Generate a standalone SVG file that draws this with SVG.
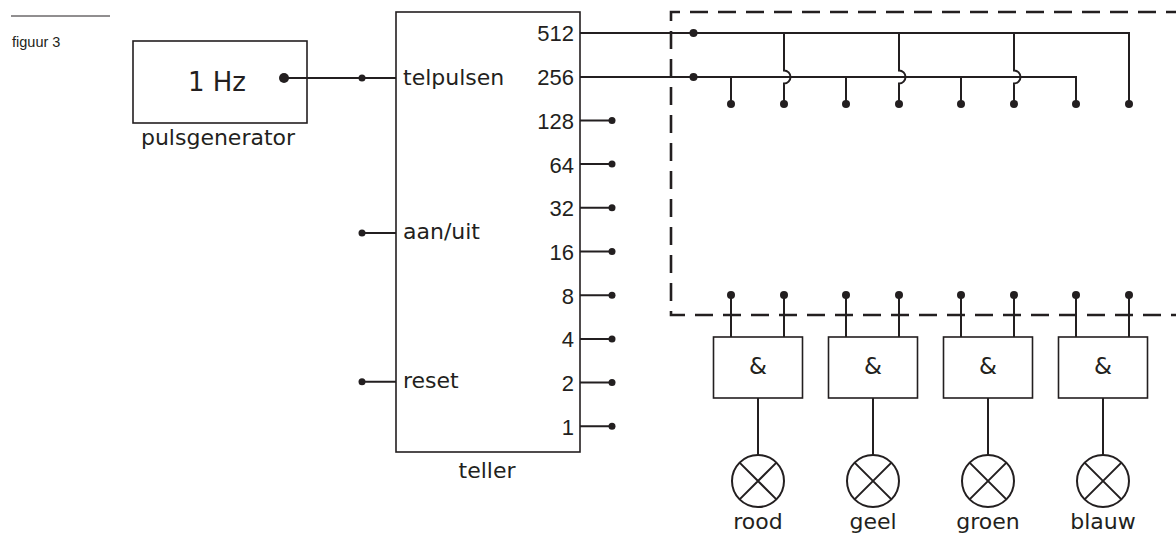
<svg xmlns="http://www.w3.org/2000/svg" width="1176" height="535" viewBox="0 0 1176 535">
<defs>
<style>
.box{fill:none;stroke:#231f20;stroke-width:1.6}
.w{fill:none;stroke:#231f20;stroke-width:2}
.dash{fill:none;stroke:#231f20;stroke-width:2.6;stroke-dasharray:18 10;stroke-dashoffset:8}
.dot{fill:#231f20}
.lbl{font-family:"DejaVu Sans",sans-serif;font-size:22px;fill:#231f20}
.num{font-family:"Liberation Sans",Arial,sans-serif;font-size:22px;fill:#231f20;text-anchor:end}
.mid{text-anchor:middle}
</style>
</defs>
<rect width="1176" height="535" fill="#ffffff"/>
<g id="caption">
<line x1="11" y1="16" x2="110" y2="16" stroke="#231f20" stroke-width="1"/>
<text x="12" y="47" style="font-family:'Liberation Sans',Arial,sans-serif;font-size:14.5px;fill:#231f20">figuur 3</text>
</g>
<g id="pulsgenerator">
<rect class="box" x="133" y="41" width="174" height="82"/>
<text class="lbl" x="217" y="90.5" text-anchor="middle" style="font-size:26px">1 Hz</text>
<circle class="dot" cx="284" cy="78" r="5"/>
<text class="lbl mid" x="218" y="145">pulsgenerator</text>
</g>
<g id="teller">
<rect class="box" x="396" y="12" width="184" height="440"/>
<text class="lbl" x="403" y="85">telpulsen</text>
<text class="lbl" x="403" y="238.5">aan/uit</text>
<text class="lbl" x="403" y="388">reset</text>
<text class="lbl mid" x="487" y="478">teller</text>
<text class="num" x="574" y="41.4">512</text>
<text class="num" x="574" y="85.1">256</text>
<text class="num" x="574" y="128.8">128</text>
<text class="num" x="574" y="172.5">64</text>
<text class="num" x="574" y="216.2">32</text>
<text class="num" x="574" y="259.9">16</text>
<text class="num" x="574" y="303.6">8</text>
<text class="num" x="574" y="347.3">4</text>
<text class="num" x="574" y="391">2</text>
<text class="num" x="574" y="434.7">1</text>
</g>
<g id="logic-block">
<path class="dash" d="M1176 12 H671 V315 H1176"/>
</g>
<g id="gate1">
<rect class="box" x="713.5" y="337" width="89" height="61"/>
<text class="lbl mid" x="758" y="374" style="font-size:23px">&amp;</text>
</g>
<g id="gate2">
<rect class="box" x="828.5" y="337" width="89" height="61"/>
<text class="lbl mid" x="873" y="374" style="font-size:23px">&amp;</text>
</g>
<g id="gate3">
<rect class="box" x="943.5" y="337" width="89" height="61"/>
<text class="lbl mid" x="988" y="374" style="font-size:23px">&amp;</text>
</g>
<g id="gate4">
<rect class="box" x="1058.5" y="337" width="89" height="61"/>
<text class="lbl mid" x="1103" y="374" style="font-size:23px">&amp;</text>
</g>
<g id="lamp-rood">
<circle class="w" cx="758" cy="481" r="26"/>
<path class="w" d="M739.6 462.6 L776.4 499.4 M776.4 462.6 L739.6 499.4"/>
<text class="lbl mid" x="758" y="529">rood</text>
</g>
<g id="lamp-geel">
<circle class="w" cx="873" cy="481" r="26"/>
<path class="w" d="M854.6 462.6 L891.4 499.4 M891.4 462.6 L854.6 499.4"/>
<text class="lbl mid" x="873" y="529">geel</text>
</g>
<g id="lamp-groen">
<circle class="w" cx="988" cy="481" r="26"/>
<path class="w" d="M969.6 462.6 L1006.4 499.4 M1006.4 462.6 L969.6 499.4"/>
<text class="lbl mid" x="988" y="529">groen</text>
</g>
<g id="lamp-blauw">
<circle class="w" cx="1103" cy="481" r="26"/>
<path class="w" d="M1084.6 462.6 L1121.4 499.4 M1121.4 462.6 L1084.6 499.4"/>
<text class="lbl mid" x="1103" y="529">blauw</text>
</g>
<g id="connectors">
<path class="w" d="M284 78 H396"/>
<circle class="dot" cx="362" cy="78" r="3.5"/>
<path class="w" d="M362 233 H396 M362 381.7 H396"/>
<circle class="dot" cx="362" cy="233" r="3.5"/>
<circle class="dot" cx="362" cy="381.7" r="3.5"/>
<path class="w" d="M580 120.4 H612 M580 164.1 H612 M580 207.8 H612 M580 251.5 H612 M580 295.2 H612 M580 338.9 H612 M580 382.6 H612 M580 426.3 H612"/>
<circle class="dot" cx="612" cy="120.4" r="3.5"/>
<circle class="dot" cx="612" cy="164.1" r="3.5"/>
<circle class="dot" cx="612" cy="207.8" r="3.5"/>
<circle class="dot" cx="612" cy="251.5" r="3.5"/>
<circle class="dot" cx="612" cy="295.2" r="3.5"/>
<circle class="dot" cx="612" cy="338.9" r="3.5"/>
<circle class="dot" cx="612" cy="382.6" r="3.5"/>
<circle class="dot" cx="612" cy="426.3" r="3.5"/>
<path class="w" d="M580 33 H1129 V104"/>
<path class="w" d="M580 77 H1076 V104"/>
<circle class="dot" cx="693.5" cy="33" r="4"/>
<circle class="dot" cx="693.5" cy="77" r="4"/>
<path class="w" d="M731 77 V104 M846 77 V104 M961 77 V104"/>
<path class="w" d="M784 33 V70.5 A6.5 6.5 0 0 1 784 83.5 V104 M899 33 V70.5 A6.5 6.5 0 0 1 899 83.5 V104 M1014 33 V70.5 A6.5 6.5 0 0 1 1014 83.5 V104"/>
<circle class="dot" cx="731" cy="104" r="4"/>
<circle class="dot" cx="784" cy="104" r="4"/>
<circle class="dot" cx="846" cy="104" r="4"/>
<circle class="dot" cx="899" cy="104" r="4"/>
<circle class="dot" cx="961" cy="104" r="4"/>
<circle class="dot" cx="1014" cy="104" r="4"/>
<circle class="dot" cx="1076" cy="104" r="4"/>
<circle class="dot" cx="1129" cy="104" r="4"/>
<path class="w" d="M731 295 V337 M784 295 V337 M846 295 V337 M899 295 V337 M961 295 V337 M1014 295 V337 M1076 295 V337 M1129 295 V337"/>
<circle class="dot" cx="731" cy="295" r="4"/>
<circle class="dot" cx="784" cy="295" r="4"/>
<circle class="dot" cx="846" cy="295" r="4"/>
<circle class="dot" cx="899" cy="295" r="4"/>
<circle class="dot" cx="961" cy="295" r="4"/>
<circle class="dot" cx="1014" cy="295" r="4"/>
<circle class="dot" cx="1076" cy="295" r="4"/>
<circle class="dot" cx="1129" cy="295" r="4"/>
<path class="w" d="M758 398 V455 M873 398 V455 M988 398 V455 M1103 398 V455"/>
</g>
</svg>
